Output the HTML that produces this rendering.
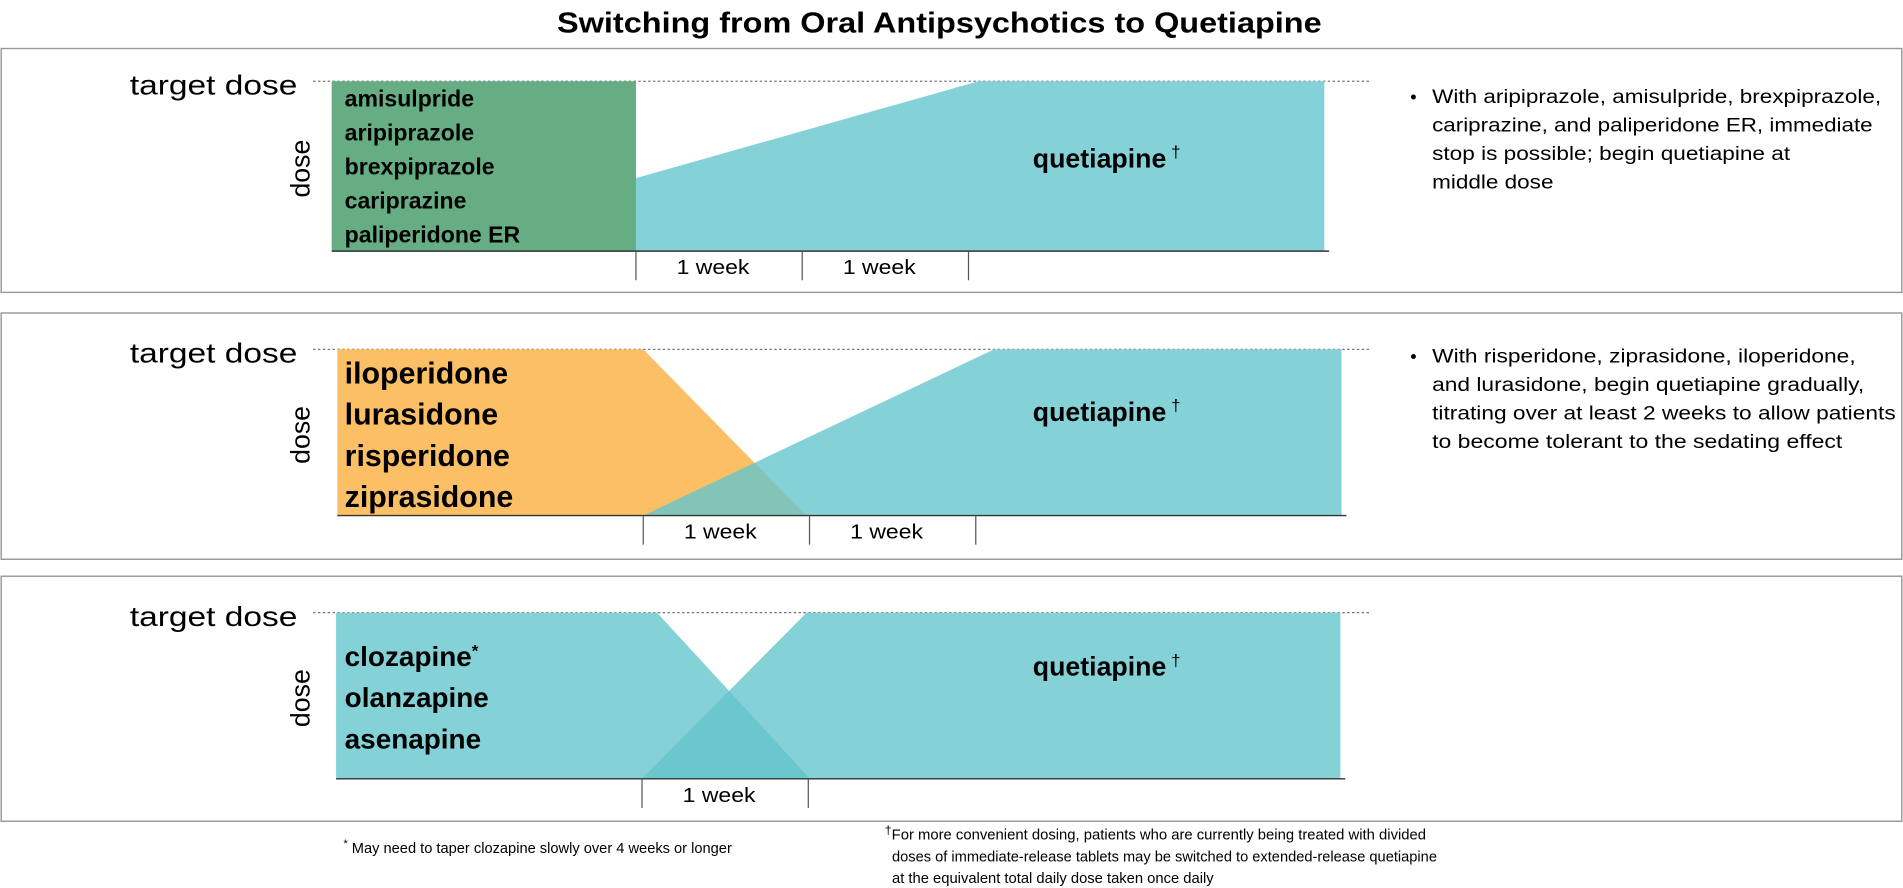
<!DOCTYPE html>
<html><head><meta charset="utf-8"><style>
html,body{margin:0;padding:0;background:#fff;}
svg{display:block;font-family:"Liberation Sans",sans-serif;}
</style></head><body>
<svg id="chart" width="1903" height="888" viewBox="0 0 1568 732" preserveAspectRatio="none">
<text x="774" y="27" text-anchor="middle" font-size="24" font-weight="bold" textLength="630" lengthAdjust="spacingAndGlyphs">Switching from Oral Antipsychotics to Quetiapine</text>
<g id="panels"></g>
<text x="283" y="703" font-size="12" textLength="320" lengthAdjust="spacingAndGlyphs"><tspan font-size="9" dy="-5">*</tspan><tspan dy="5"> May need to taper clozapine slowly over 4 weeks or longer</tspan></text>
<g font-size="12">
<text x="729" y="692" textLength="446" lengthAdjust="spacingAndGlyphs"><tspan font-size="10" dy="-4">†</tspan><tspan dy="4">For more convenient dosing, patients who are currently being treated with divided</tspan></text>
<text x="735" y="710" textLength="449" lengthAdjust="spacingAndGlyphs">doses of immediate-release tablets may be switched to extended-release quetiapine</text>
<text x="735" y="728" textLength="265" lengthAdjust="spacingAndGlyphs">at the equivalent total daily dose taken once daily</text>
</g>
</svg>
<script>
// weeks relative to switch start, dose as fraction of target
const drugWeeks1 = [-1.83, 0];      const drugDose1 = [1, 1];
const quetWeeks1 = [0, 0, 2.06, 4.14]; const quetDose1 = [0, 0.43, 1, 1];
const drugWeeks2 = [-1.84, 0, 0.98]; const drugDose2 = [1, 1, 0];
const quetWeeks2 = [0, 2.11, 4.2];   const quetDose2 = [0, 1, 1];
const drugWeeks3 = [-1.84, 0.09, 1.01]; const drugDose3 = [1, 1, 0];
const quetWeeks3 = [0, 0.99, 4.2];   const quetDose3 = [0, 1, 1];
const tickWeeks1 = [0, 1, 2]; const tickWeeks2 = [0, 1, 2]; const tickWeeks3 = [0, 1];
const tickLabels = ["1 week", "1 week"];
const drugNames1 = ["amisulpride","aripiprazole","brexpiprazole","cariprazine","paliperidone ER"];
const drugNames2 = ["iloperidone","lurasidone","risperidone","ziprasidone"];
const drugNames3 = ["clozapine","olanzapine","asenapine"];
const notes1 = ["With aripiprazole, amisulpride,  brexpiprazole,","cariprazine, and paliperidone ER, immediate","stop is possible; begin quetiapine at","middle dose"];
const notes2 = ["With risperidone, ziprasidone, iloperidone,","and lurasidone, begin quetiapine gradually,","titrating over at least 2 weeks to allow patients","to become tolerant to the sedating effect"];

const NS="http://www.w3.org/2000/svg";
const root=document.getElementById('panels');
function mk(tag,attrs,parent){const e=document.createElementNS(NS,tag);for(const k in attrs)e.setAttribute(k,attrs[k]);(parent||root).appendChild(e);return e;}

const panels=[
 {box:[40,241],top:67,base:207,x0:524,dw:drugWeeks1,dd:drugDose1,qw:quetWeeks1,qd:quetDose1,ticks:tickWeeks1,names:drugNames1,nsize:19,nstart:88,nstep:28,drugColor:'#66ad84',overlap:null,notes:notes1,qy:138,notesY:85,lens:[370,363,295,100],labelY:[226,226]},
 {box:[258,461],top:288,base:425,x0:530,dw:drugWeeks2,dd:drugDose2,qw:quetWeeks2,qd:quetDose2,ticks:tickWeeks2,names:drugNames2,nsize:25,nstart:316,nstep:34,drugColor:'#fbbf65',overlap:'#82c4b8',notes:notes2,qy:347,notesY:299,lens:[349,356,382,338],labelY:[444,444]},
 {box:[475,677],top:505,base:642,x0:529,dw:drugWeeks3,dd:drugDose3,qw:quetWeeks3,qd:quetDose3,ticks:tickWeeks3,names:drugNames3,nsize:23,nstart:549,nstep:34,drugColor:'#84d2d7',overlap:'#6ac6cf',notes:[],qy:557,notesY:0,lens:[],labelY:[661]}
];
const WEEK=137;
panels.forEach((p,i)=>{
 const g=mk('g',{});
 
 
 const X=t=>p.x0+t*WEEK, Y=d=>p.base-d*(p.base-p.top);
 const r=mk('rect',{x:1,y:p.box[0],width:1566,height:p.box[1]-p.box[0],fill:'none',stroke:'#9a9a9a','stroke-width':1.2},g);
 
 
 const td=mk('text',{x:107,y:p.top+11,'font-size':23,textLength:138,lengthAdjust:'spacingAndGlyphs'},g);td.textContent='target dose';
 
 
 const dl=mk('line',{x1:258,y1:p.top,x2:1128,y2:p.top,stroke:'#777','stroke-dasharray':'2,2','stroke-width':1},g);
 
 
 const ds=mk('text',{transform:`translate(255,${(p.top+p.base)/2+2}) rotate(-90)`,'text-anchor':'middle','font-size':22},g);ds.textContent='dose';
 
 
 let qpts=p.qw.map((t,k)=>X(t)+','+Y(p.qd[k]));
 qpts.push(X(p.qw[p.qw.length-1])+','+Y(0)); qpts.unshift(X(p.qw[0])+','+Y(0));
 const qa=mk('polygon',{points:qpts.join(' '),fill:'#84d2d7'},g);
 
 
 let dpts=p.dw.map((t,k)=>X(t)+','+Y(p.dd[k]));
 dpts.push(X(p.dw[p.dw.length-1])+','+Y(0)); dpts.push(X(p.dw[0])+','+Y(0));
 const da=mk('polygon',{points:dpts.join(' '),fill:p.drugColor},g);
 
 
 if(p.overlap){
  const n=p.dw.length;
  const a1=[X(p.dw[n-2]),Y(p.dd[n-2])],a2=[X(p.dw[n-1]),Y(p.dd[n-1])];
  const b1=[X(p.qw[0]),Y(p.qd[0])],b2=[X(p.qw[1]),Y(p.qd[1])];
  const d=(a2[0]-a1[0])*(b2[1]-b1[1])-(a2[1]-a1[1])*(b2[0]-b1[0]);
  const u=((b1[0]-a1[0])*(b2[1]-b1[1])-(b1[1]-a1[1])*(b2[0]-b1[0]))/d;
  const ix=a1[0]+u*(a2[0]-a1[0]),iy=a1[1]+u*(a2[1]-a1[1]);
  const ov=mk('polygon',{points:`${b1[0]},${Y(0)} ${ix},${iy} ${a2[0]},${Y(0)}`,fill:p.overlap},g);
  
  
 }
 const ax=mk('line',{x1:X(p.dw[0]),y1:p.base,x2:X(p.qw[p.qw.length-1])+4,y2:p.base,stroke:'#333','stroke-width':1.2},g);
 
 
 p.ticks.forEach((t,k)=>{
  const tk=mk('line',{x1:X(t),y1:p.base,x2:X(t),y2:p.base+24,stroke:'#555','stroke-width':1},g);
  
  
  if(k<p.ticks.length-1){
   const tl=mk('text',{x:X(t+0.5)-5,y:p.labelY[k],'text-anchor':'middle','font-size':17,textLength:60,lengthAdjust:'spacingAndGlyphs'},g);
   tl.textContent=tickLabels[k];
   
   
  }
 });
 p.names.forEach((nm,k)=>{
  const t=mk('text',{x:284,y:p.nstart+k*p.nstep,'font-size':p.nsize,'font-weight':'bold'},g);
  t.textContent=nm;
  if(nm==='clozapine'){const s=mk('tspan',{'font-size':14,dy:-8},t);s.textContent='*';}
  
  
 });
 const q=mk('text',{x:851,y:p.qy,'font-size':22,'font-weight':'bold'},g);q.textContent='quetiapine';
 const dg=mk('tspan',{'font-size':14,dx:4,dy:-8,'font-weight':'normal'},q);dg.textContent='†';
 
 
 if(p.notes.length){
  const b=mk('text',{x:1162,y:p.notesY,'font-size':15},g);b.textContent='•';
  
  
 }
 p.notes.forEach((ln,k)=>{
  const t=mk('text',{x:1180,y:p.notesY+k*23.5,'font-size':16,textLength:p.lens[k],lengthAdjust:'spacingAndGlyphs'},g);
  t.textContent=ln;
  
  
 });
});
</script>
</body></html>
